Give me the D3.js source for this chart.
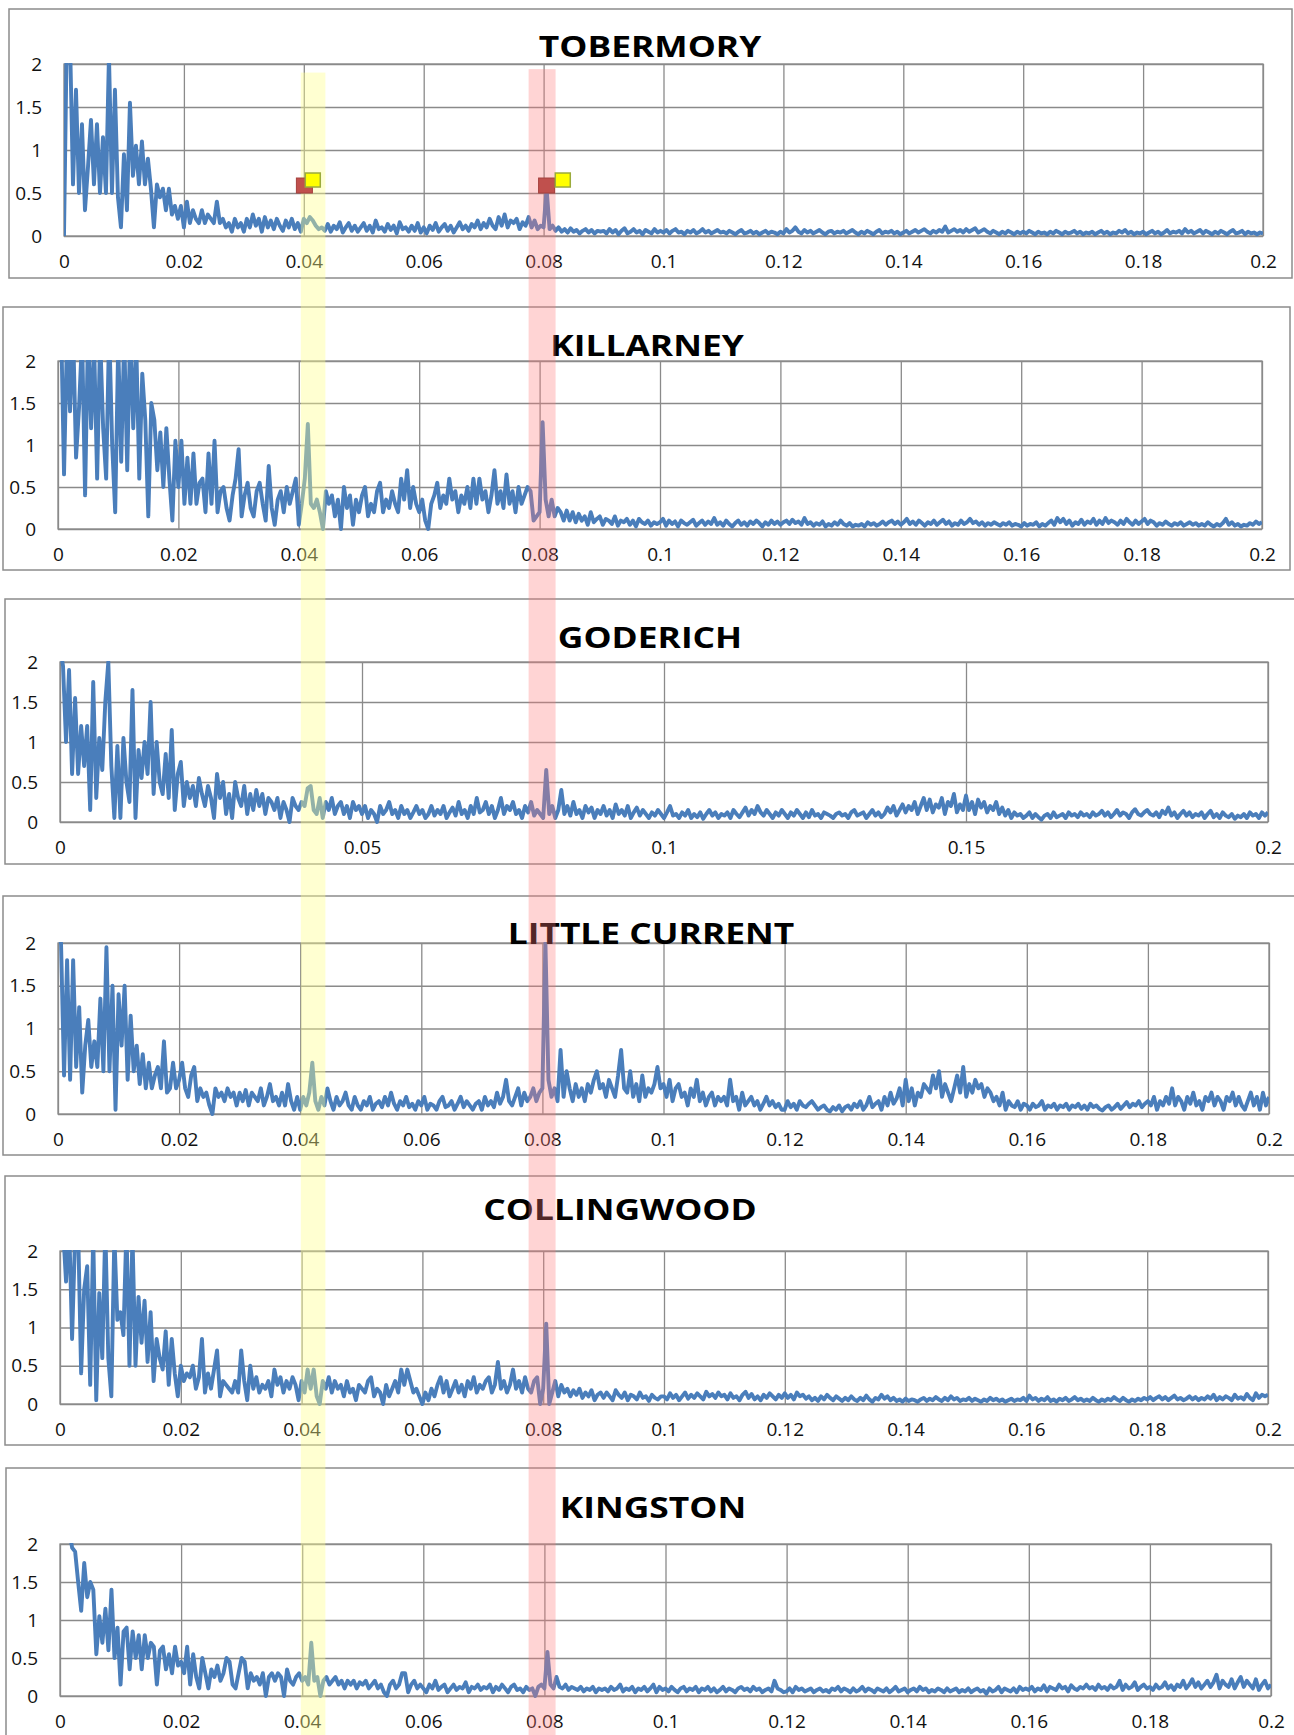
<!DOCTYPE html>
<html>
<head>
<meta charset="utf-8">
<script src="https://cdn.jsdelivr.net/npm/d3@7"></script>
<style>
  body { margin: 0; background: #fff; }
  svg text { font-family: "Open Sans", "Liberation Sans", sans-serif; }
</style>
</head>
<body>
<svg id="drawing_region"></svg>
<script>
// station spectra, one value per 0.0005 of frequency from 0 to 0.2
const stations = ['TOBERMORY', 'KILLARNEY', 'GODERICH', 'LITTLE CURRENT', 'COLLINGWOOD', 'KINGSTON'];
const freqStep = 0.0005;

const tobermory = [
  0, 2.5, 2.3, 0.6, 1.7, 0.5, 1.3, 0.3, 0.8, 1.35, 0.6, 1.3, 0.5, 1.15, 0.5, 2.1, 0.5, 1.7, 0.45, 0.1,
  0.95, 0.3, 1.55, 0.7, 1.05, 0.6, 1.1, 0.6, 0.9, 0.55, 0.1, 0.6, 0.45, 0.55, 0.3, 0.55, 0.25, 0.35, 0.2, 0.35,
  0.1, 0.4, 0.15, 0.3, 0.2, 0.15, 0.3, 0.15, 0.25, 0.2, 0.15, 0.4, 0.15, 0.2, 0.1, 0.15, 0.05, 0.2, 0.1, 0.15,
  0.05, 0.2, 0.1, 0.25, 0.12, 0.2, 0.05, 0.22, 0.1, 0.18, 0.08, 0.2, 0.12, 0.06, 0.18, 0.1, 0.2, 0.08, 0.15, 0.05,
  0.2, 0.15, 0.22, 0.18, 0.12, 0.08, 0.1, 0.06, 0.14, 0.05, 0.12, 0.08, 0.16, 0.04, 0.1, 0.15, 0.06, 0.12, 0.05, 0.1,
  0.15, 0.06, 0.12, 0.04, 0.18, 0.08, 0.1, 0.05, 0.14, 0.07, 0.12, 0.03, 0.16, 0.08, 0.1, 0.05, 0.12, 0.06, 0.15, 0.04,
  0.1, 0.03, 0.12, 0.07, 0.15, 0.05, 0.1, 0.14, 0.06, 0.12, 0.04, 0.1, 0.16, 0.08, 0.12, 0.06, 0.14, 0.1, 0.18, 0.08,
  0.15, 0.1, 0.2, 0.12, 0.08, 0.22, 0.12, 0.25, 0.1, 0.18, 0.15, 0.2, 0.08, 0.16, 0.12, 0.22, 0.1, 0.18, 0.08, 0.12,
  0.1, 0.55, 0.08, 0.12, 0.06, 0.1, 0.05, 0.08, 0.04, 0.09, 0.05, 0.07, 0.03, 0.06, 0.08, 0.04, 0.07, 0.03, 0.06, 0.05,
  0.06, 0.03, 0.08, 0.04, 0.07, 0.02, 0.06, 0.09, 0.03, 0.05, 0.08, 0.04, 0.06, 0.02, 0.07, 0.05, 0.03, 0.08, 0.04, 0.06,
  0.04, 0.07, 0.03, 0.06, 0.08, 0.04, 0.05, 0.02, 0.06, 0.04, 0.07, 0.03, 0.05, 0.08, 0.04, 0.06, 0.03, 0.05, 0.07, 0.04,
  0.05, 0.03, 0.06, 0.04, 0.02, 0.05, 0.07, 0.03, 0.04, 0.06, 0.03, 0.05, 0.02, 0.04, 0.06, 0.03, 0.05, 0.04, 0.02, 0.05,
  0.03, 0.08, 0.04, 0.06, 0.1, 0.05, 0.03, 0.07, 0.04, 0.06, 0.03, 0.05, 0.07, 0.04, 0.02, 0.05, 0.06, 0.03, 0.05, 0.04,
  0.06, 0.03, 0.05, 0.07, 0.04, 0.02, 0.05, 0.03, 0.06, 0.04, 0.02, 0.05, 0.07, 0.03, 0.05, 0.04, 0.06, 0.03, 0.05, 0.02,
  0.04, 0.06, 0.03, 0.05, 0.07, 0.04, 0.06, 0.08, 0.05, 0.03, 0.06, 0.04, 0.07, 0.05, 0.11, 0.04, 0.06, 0.08, 0.05, 0.07,
  0.04, 0.08, 0.05, 0.07, 0.09, 0.04, 0.06, 0.08, 0.05, 0.03, 0.06, 0.04, 0.02, 0.05, 0.03, 0.06, 0.04, 0.02, 0.05, 0.03,
  0.05, 0.03, 0.06, 0.04, 0.02, 0.05, 0.03, 0.04, 0.02, 0.05, 0.03, 0.06, 0.04, 0.02, 0.05, 0.03, 0.04, 0.06, 0.03, 0.05,
  0.02, 0.04, 0.03, 0.05, 0.02, 0.04, 0.06, 0.03, 0.05, 0.02, 0.04, 0.03, 0.06, 0.04, 0.07, 0.03, 0.05, 0.02, 0.04, 0.03,
  0.05, 0.02, 0.04, 0.06, 0.03, 0.05, 0.02, 0.04, 0.07, 0.03, 0.05, 0.04, 0.06, 0.03, 0.08, 0.04, 0.06, 0.03, 0.05, 0.07,
  0.03, 0.06, 0.04, 0.02, 0.05, 0.03, 0.06, 0.04, 0.02, 0.05, 0.07, 0.03, 0.04, 0.06, 0.02, 0.05, 0.03, 0.04, 0.02, 0.04,
  0.03
];

const killarney = [
  2.8, 2.5, 0.65, 2.3, 1.4, 2.4, 0.85, 1.45, 2.3, 0.4, 2.4, 1.2, 2.2, 0.6, 2.3, 1.2, 0.6, 2.4, 1.0, 0.2,
  2.2, 0.8, 2.3, 0.7, 2.4, 1.2, 2.2, 0.6, 1.85, 1.3, 0.15, 1.5, 1.3, 0.7, 1.15, 0.5, 1.2, 0.6, 0.1, 1.05,
  0.5, 1.05, 0.3, 0.85, 0.3, 0.9, 0.3, 0.55, 0.6, 0.2, 0.9, 0.3, 1.05, 0.2, 0.45, 0.5, 0.25, 0.1, 0.4, 0.6,
  0.95, 0.15, 0.4, 0.55, 0.25, 0.15, 0.45, 0.55, 0.3, 0.1, 0.75, 0.25, 0.05, 0.35, 0.45, 0.2, 0.5, 0.3, 0.45, 0.6,
  0.05, 0.3, 0.6, 1.25, 0.3, 0.25, 0.35, 0.2, 0.0, 0.45, 0.3, 0.4, 0.15, 0.35, 0.0, 0.5, 0.25, 0.4, 0.05, 0.35,
  0.2, 0.4, 0.5, 0.15, 0.3, 0.2, 0.45, 0.55, 0.2, 0.35, 0.25, 0.45, 0.3, 0.2, 0.6, 0.35, 0.7, 0.25, 0.5, 0.3,
  0.2, 0.35, 0.1, 0.0, 0.3, 0.4, 0.55, 0.25, 0.4, 0.3, 0.6, 0.35, 0.45, 0.2, 0.4, 0.3, 0.5, 0.25, 0.6, 0.3,
  0.6, 0.35, 0.45, 0.2, 0.4, 0.7, 0.3, 0.45, 0.25, 0.65, 0.3, 0.45, 0.2, 0.5, 0.3, 0.4, 0.5, 0.45, 0.1, 0.15,
  0.2, 1.27, 0.35, 0.15, 0.35, 0.15, 0.25, 0.2, 0.1, 0.22, 0.1, 0.2, 0.08, 0.18, 0.1, 0.15, 0.05, 0.2, 0.08, 0.12,
  0.15, 0.05, 0.12, 0.1, 0.06, 0.15, 0.04, 0.1, 0.08, 0.12, 0.05, 0.1, 0.03, 0.12, 0.08, 0.06, 0.1, 0.04, 0.08, 0.06,
  0.08, 0.12, 0.04, 0.1, 0.06, 0.09, 0.03, 0.1, 0.07, 0.05, 0.08, 0.11, 0.04, 0.07, 0.1, 0.05, 0.09, 0.06, 0.13, 0.05,
  0.08, 0.04, 0.1, 0.06, 0.03, 0.07, 0.1, 0.05, 0.08, 0.04, 0.09, 0.06, 0.1, 0.07, 0.03, 0.08, 0.05, 0.1, 0.06, 0.09,
  0.05, 0.08, 0.1, 0.06, 0.11, 0.07, 0.09, 0.05, 0.13, 0.06, 0.08, 0.04, 0.07, 0.05, 0.09, 0.03, 0.06, 0.04, 0.08, 0.05,
  0.1, 0.06, 0.04, 0.07, 0.03, 0.05, 0.04, 0.06, 0.03, 0.08, 0.05, 0.07, 0.04, 0.06, 0.09, 0.05, 0.08, 0.1, 0.06, 0.09,
  0.05, 0.08, 0.12, 0.06, 0.09, 0.05, 0.1, 0.07, 0.04, 0.08, 0.06, 0.1, 0.05, 0.08, 0.11, 0.06, 0.09, 0.04, 0.07, 0.05,
  0.1, 0.06, 0.08, 0.12, 0.07, 0.09, 0.05, 0.08, 0.04, 0.07, 0.05, 0.08, 0.06, 0.04, 0.07, 0.05, 0.08, 0.04, 0.06, 0.05,
  0.03, 0.07, 0.04, 0.06, 0.05, 0.08, 0.03, 0.06, 0.04, 0.07, 0.1, 0.05, 0.13, 0.08, 0.12, 0.06, 0.1, 0.04, 0.08, 0.06,
  0.11, 0.05, 0.09, 0.07, 0.12, 0.05, 0.1, 0.06, 0.13, 0.07, 0.1, 0.08, 0.05, 0.1, 0.06, 0.12, 0.08, 0.05, 0.1, 0.06,
  0.09, 0.12, 0.06, 0.1, 0.08, 0.04, 0.07, 0.05, 0.09, 0.06, 0.04, 0.07, 0.05, 0.08, 0.04, 0.06, 0.08, 0.05, 0.07, 0.04,
  0.06, 0.04, 0.08, 0.05, 0.03, 0.06, 0.04, 0.07, 0.12, 0.05, 0.08, 0.04, 0.06, 0.03, 0.05, 0.04, 0.07, 0.05, 0.09, 0.06,
  0.08
];

const goderich = [
  2.2, 1.95, 1.0, 1.9, 0.6, 1.55, 0.6, 1.2, 0.7, 1.2, 0.15, 1.75, 0.3, 1.05, 0.65, 1.5, 2.0, 0.7, 0.05, 0.95,
  0.05, 1.05, 0.5, 0.25, 1.65, 0.05, 0.9, 0.55, 1.0, 0.6, 1.5, 0.35, 1.0, 0.5, 0.35, 0.85, 0.3, 1.15, 0.15, 0.6,
  0.75, 0.2, 0.5, 0.3, 0.45, 0.2, 0.55, 0.35, 0.2, 0.45, 0.3, 0.05, 0.6, 0.3, 0.5, 0.1, 0.35, 0.05, 0.5, 0.3,
  0.2, 0.45, 0.1, 0.35, 0.15, 0.4, 0.2, 0.35, 0.1, 0.3, 0.25, 0.15, 0.3, 0.05, 0.25, 0.15, 0.0, 0.3, 0.2, 0.15,
  0.25, 0.2, 0.42, 0.45, 0.15, 0.1, 0.3, 0.05, 0.25, 0.15, 0.3, 0.1, 0.2, 0.25, 0.1, 0.2, 0.05, 0.25, 0.15, 0.2,
  0.1, 0.2, 0.05, 0.15, 0.1, 0.0, 0.2, 0.1, 0.15, 0.25, 0.1, 0.15, 0.05, 0.2, 0.1, 0.15, 0.05, 0.12, 0.2, 0.1,
  0.15, 0.05, 0.1, 0.2, 0.08, 0.15, 0.1, 0.2, 0.05, 0.12, 0.18, 0.08, 0.25, 0.1, 0.15, 0.05, 0.2, 0.1, 0.3, 0.12,
  0.15, 0.25, 0.1, 0.2, 0.05, 0.15, 0.3, 0.1, 0.2, 0.15, 0.25, 0.1, 0.15, 0.05, 0.2, 0.12, 0.25, 0.08, 0.15, 0.1,
  0.05, 0.65, 0.1, 0.2, 0.05, 0.15, 0.4, 0.1, 0.2, 0.08, 0.25, 0.1, 0.15, 0.05, 0.2, 0.12, 0.18, 0.05, 0.15, 0.1,
  0.2, 0.08, 0.15, 0.05, 0.22, 0.1, 0.15, 0.08, 0.2, 0.05, 0.12, 0.18, 0.08, 0.15, 0.1, 0.05, 0.12, 0.08, 0.15, 0.1,
  0.05, 0.12, 0.2, 0.08, 0.1, 0.05, 0.12, 0.08, 0.15, 0.05, 0.1, 0.06, 0.12, 0.04, 0.1, 0.15, 0.08, 0.12, 0.05, 0.1,
  0.08, 0.12, 0.05, 0.15, 0.1, 0.06, 0.12, 0.18, 0.08, 0.15, 0.1, 0.2, 0.12, 0.08, 0.15, 0.1, 0.05, 0.12, 0.08, 0.15,
  0.1, 0.05, 0.12, 0.08, 0.15, 0.1, 0.05, 0.12, 0.06, 0.15, 0.08, 0.1, 0.05, 0.12, 0.1, 0.08, 0.05, 0.1, 0.12, 0.08,
  0.1, 0.05, 0.12, 0.15, 0.08, 0.1, 0.12, 0.05, 0.1, 0.15, 0.08, 0.12, 0.06, 0.1, 0.18, 0.12, 0.2, 0.08, 0.15, 0.22,
  0.12, 0.2, 0.15, 0.25, 0.1, 0.2, 0.3, 0.15, 0.28, 0.12, 0.22, 0.18, 0.3, 0.1, 0.25, 0.2, 0.35, 0.12, 0.22, 0.15,
  0.33, 0.15, 0.25, 0.1, 0.28, 0.18, 0.25, 0.12, 0.2, 0.15, 0.25, 0.1, 0.18, 0.08, 0.15, 0.05, 0.12, 0.08, 0.1, 0.05,
  0.08, 0.12, 0.05, 0.1, 0.06, 0.03, 0.08, 0.1, 0.05, 0.12, 0.06, 0.08, 0.1, 0.05, 0.12, 0.08, 0.1, 0.06, 0.12, 0.08,
  0.1, 0.06, 0.12, 0.08, 0.1, 0.14, 0.08, 0.12, 0.06, 0.1, 0.15, 0.08, 0.12, 0.1, 0.05, 0.12, 0.16, 0.1, 0.08, 0.12,
  0.15, 0.1, 0.08, 0.12, 0.06, 0.14, 0.1, 0.18, 0.08, 0.12, 0.05, 0.1, 0.14, 0.08, 0.12, 0.06, 0.1, 0.08, 0.12, 0.05,
  0.1, 0.14, 0.06, 0.1, 0.05, 0.12, 0.08, 0.06, 0.1, 0.04, 0.08, 0.06, 0.1, 0.05, 0.12, 0.08, 0.1, 0.05, 0.12, 0.08,
  0.12
];

const littleCurrent = [
  2.1, 2.0, 0.45, 1.8, 0.4, 1.8, 0.55, 1.25, 0.25, 0.8, 1.1, 0.55, 0.85, 0.55, 1.35, 0.5, 1.95, 0.5, 1.5, 0.05,
  1.4, 0.8, 1.5, 0.4, 1.15, 0.5, 0.8, 0.35, 0.7, 0.3, 0.6, 0.3, 0.45, 0.55, 0.3, 0.85, 0.25, 0.3, 0.6, 0.3,
  0.4, 0.6, 0.3, 0.2, 0.45, 0.55, 0.15, 0.3, 0.2, 0.25, 0.1, 0.0, 0.3, 0.2, 0.25, 0.15, 0.3, 0.2, 0.25, 0.1,
  0.25, 0.15, 0.28, 0.1, 0.25, 0.2, 0.15, 0.3, 0.1, 0.2, 0.35, 0.15, 0.2, 0.1, 0.25, 0.1, 0.35, 0.15, 0.05, 0.2,
  0.05, 0.2, 0.1, 0.25, 0.6, 0.15, 0.05, 0.2, 0.1, 0.3, 0.15, 0.05, 0.2, 0.1, 0.15, 0.25, 0.1, 0.05, 0.2, 0.1,
  0.05, 0.15, 0.1, 0.2, 0.05, 0.12, 0.15, 0.08, 0.2, 0.1, 0.25, 0.12, 0.05, 0.15, 0.1, 0.2, 0.08, 0.12, 0.05, 0.15,
  0.1, 0.2, 0.05, 0.12, 0.1, 0.05, 0.15, 0.2, 0.08, 0.1, 0.15, 0.05, 0.12, 0.2, 0.08, 0.15, 0.1, 0.05, 0.12, 0.15,
  0.05, 0.2, 0.1, 0.15, 0.08, 0.25, 0.12, 0.2, 0.4, 0.15, 0.1, 0.2, 0.3, 0.1, 0.25, 0.15, 0.2, 0.3, 0.15, 0.25,
  0.3, 2.0, 0.4, 0.2, 0.3, 0.15, 0.75, 0.2, 0.5, 0.3, 0.15, 0.35, 0.2, 0.3, 0.15, 0.35, 0.25, 0.4, 0.5, 0.3,
  0.35, 0.2, 0.4, 0.3, 0.2, 0.45, 0.75, 0.3, 0.25, 0.5, 0.2, 0.35, 0.15, 0.45, 0.2, 0.3, 0.25, 0.35, 0.55, 0.3,
  0.35, 0.2, 0.4, 0.15, 0.3, 0.35, 0.2, 0.25, 0.1, 0.3, 0.2, 0.4, 0.15, 0.25, 0.1, 0.2, 0.25, 0.1, 0.2, 0.15,
  0.2, 0.1, 0.4, 0.15, 0.2, 0.05, 0.25, 0.1, 0.15, 0.2, 0.1, 0.15, 0.05, 0.12, 0.2, 0.1, 0.15, 0.08, 0.12, 0.05,
  0.05, 0.15, 0.08, 0.12, 0.05, 0.15, 0.1, 0.08, 0.12, 0.15, 0.1, 0.05, 0.08, 0.1, 0.05, 0.03, 0.08, 0.05, 0.1, 0.03,
  0.08, 0.1, 0.05, 0.12, 0.08, 0.15, 0.05, 0.1, 0.2, 0.08, 0.12, 0.15, 0.05, 0.2, 0.1, 0.25, 0.12, 0.18, 0.3, 0.1,
  0.4, 0.15, 0.3, 0.1, 0.25, 0.2, 0.35, 0.3, 0.25, 0.45, 0.3, 0.5, 0.2, 0.35, 0.25, 0.15, 0.3, 0.45, 0.25, 0.55,
  0.2, 0.35, 0.25, 0.4, 0.3, 0.35, 0.2, 0.3, 0.25, 0.15, 0.2, 0.1, 0.25, 0.05, 0.15, 0.1, 0.08, 0.15, 0.05, 0.12,
  0.1, 0.05, 0.12, 0.08, 0.1, 0.15, 0.05, 0.1, 0.08, 0.12, 0.05, 0.1, 0.08, 0.12, 0.05, 0.1, 0.08, 0.12, 0.06, 0.1,
  0.05, 0.12, 0.08, 0.1, 0.06, 0.04, 0.08, 0.1, 0.05, 0.08, 0.12, 0.06, 0.1, 0.14, 0.08, 0.12, 0.1, 0.15, 0.08, 0.12,
  0.15, 0.1, 0.2, 0.05, 0.15, 0.1, 0.2, 0.12, 0.3, 0.1, 0.2, 0.15, 0.05, 0.2, 0.12, 0.25, 0.1, 0.15, 0.05, 0.2,
  0.15, 0.25, 0.1, 0.2, 0.15, 0.05, 0.2, 0.15, 0.25, 0.1, 0.2, 0.1, 0.05, 0.15, 0.25, 0.1, 0.2, 0.05, 0.25, 0.1,
  0.2
];

const collingwood = [
  2.5, 2.3, 1.6, 2.4, 0.85, 2.2, 2.3, 0.4, 1.5, 1.8, 0.25, 2.2, 0.05, 1.45, 0.6, 2.3, 0.6, 0.1, 2.2, 1.1,
  1.2, 0.9, 2.3, 0.5, 2.2, 0.5, 1.4, 0.8, 1.35, 0.55, 1.2, 0.3, 0.85, 0.6, 0.45, 0.95, 0.25, 0.85, 0.4, 0.1,
  0.5, 0.3, 0.4, 0.35, 0.5, 0.2, 0.35, 0.85, 0.15, 0.4, 0.2, 0.45, 0.7, 0.1, 0.3, 0.25, 0.2, 0.15, 0.3, 0.15,
  0.7, 0.3, 0.05, 0.5, 0.2, 0.35, 0.15, 0.25, 0.2, 0.3, 0.1, 0.45, 0.25, 0.35, 0.15, 0.3, 0.2, 0.35, 0.25, 0.05,
  0.3, 0.15, 0.45, 0.2, 0.45, 0.1, 0.0, 0.3, 0.2, 0.35, 0.15, 0.3, 0.2, 0.25, 0.1, 0.3, 0.15, 0.2, 0.05, 0.25,
  0.2, 0.15, 0.3, 0.35, 0.1, 0.2, 0.15, 0.0, 0.25, 0.1, 0.2, 0.3, 0.15, 0.45, 0.25, 0.45, 0.3, 0.15, 0.2, 0.1,
  0.0, 0.15, 0.05, 0.2, 0.1, 0.25, 0.35, 0.15, 0.3, 0.1, 0.2, 0.3, 0.15, 0.25, 0.1, 0.3, 0.2, 0.35, 0.15, 0.25,
  0.2, 0.3, 0.35, 0.15, 0.25, 0.55, 0.2, 0.3, 0.15, 0.25, 0.45, 0.2, 0.3, 0.15, 0.35, 0.2, 0.15, 0.3, 0.35, 0.0,
  0.2, 1.05, 0.0, 0.15, 0.3, 0.1, 0.25, 0.15, 0.2, 0.1, 0.18, 0.12, 0.2, 0.08, 0.15, 0.1, 0.18, 0.05, 0.12, 0.15,
  0.08, 0.15, 0.1, 0.05, 0.18, 0.12, 0.08, 0.15, 0.05, 0.12, 0.1, 0.06, 0.15, 0.08, 0.1, 0.04, 0.12, 0.08, 0.06, 0.1,
  0.1, 0.06, 0.14, 0.08, 0.12, 0.05, 0.1, 0.15, 0.07, 0.12, 0.08, 0.14, 0.1, 0.06, 0.16, 0.1, 0.13, 0.08, 0.15, 0.1,
  0.12, 0.06, 0.14, 0.08, 0.1, 0.05, 0.12, 0.16, 0.08, 0.13, 0.06, 0.1, 0.05, 0.12, 0.08, 0.14, 0.1, 0.06, 0.12, 0.08,
  0.14, 0.08, 0.12, 0.06, 0.15, 0.1, 0.12, 0.07, 0.1, 0.05, 0.08, 0.04, 0.1, 0.06, 0.12, 0.08, 0.05, 0.1, 0.07, 0.04,
  0.08, 0.05, 0.1, 0.06, 0.04, 0.08, 0.05, 0.11, 0.06, 0.03, 0.08, 0.06, 0.12, 0.07, 0.1, 0.05, 0.08, 0.04, 0.06, 0.03,
  0.07, 0.04, 0.06, 0.05, 0.03, 0.06, 0.08, 0.04, 0.07, 0.05, 0.09, 0.06, 0.04, 0.08, 0.05, 0.1, 0.06, 0.08, 0.04, 0.06,
  0.05, 0.08, 0.04, 0.07, 0.05, 0.03, 0.06, 0.04, 0.08, 0.05, 0.07, 0.04, 0.06, 0.03, 0.05, 0.07, 0.04, 0.06, 0.05, 0.08,
  0.04, 0.11, 0.06, 0.08, 0.04, 0.07, 0.05, 0.09, 0.04, 0.06, 0.03, 0.07, 0.05, 0.08, 0.04, 0.06, 0.09, 0.05, 0.07, 0.04,
  0.06, 0.04, 0.08, 0.05, 0.03, 0.06, 0.04, 0.07, 0.05, 0.09, 0.06, 0.04, 0.08, 0.05, 0.03, 0.06, 0.04, 0.07, 0.05, 0.08,
  0.06, 0.09, 0.05, 0.08, 0.1, 0.06, 0.09, 0.05, 0.08, 0.11, 0.06, 0.08, 0.05, 0.07, 0.1, 0.06, 0.09, 0.05, 0.08, 0.06,
  0.1, 0.07, 0.12, 0.05, 0.09, 0.06, 0.1, 0.08, 0.05, 0.12, 0.07, 0.09, 0.06, 0.13, 0.08, 0.05, 0.14, 0.08, 0.12, 0.1,
  0.12
];

const kingston = [
  3.0, 2.8, 2.6, 2.2, 1.95, 1.9, 1.5, 1.12, 1.75, 1.3, 1.5, 1.4, 0.55, 1.05, 0.7, 1.15, 0.6, 1.4, 0.5, 0.9,
  0.15, 0.85, 0.9, 0.35, 0.85, 0.5, 0.8, 0.35, 0.8, 0.5, 0.7, 0.65, 0.15, 0.6, 0.65, 0.35, 0.55, 0.3, 0.65, 0.4,
  0.45, 0.3, 0.65, 0.15, 0.55, 0.25, 0.1, 0.5, 0.3, 0.1, 0.35, 0.25, 0.4, 0.2, 0.3, 0.5, 0.45, 0.15, 0.1, 0.3,
  0.5, 0.45, 0.1, 0.3, 0.2, 0.25, 0.15, 0.3, 0.0, 0.25, 0.3, 0.2, 0.3, 0.25, 0.0, 0.35, 0.2, 0.15, 0.25, 0.3,
  0.2, 0.25, 0.15, 0.7, 0.2, 0.25, 0.0, 0.2, 0.25, 0.15, 0.2, 0.25, 0.15, 0.2, 0.1, 0.2, 0.15, 0.2, 0.1, 0.18,
  0.15, 0.2, 0.1, 0.15, 0.2, 0.1, 0.15, 0.05, 0.0, 0.15, 0.2, 0.1, 0.15, 0.3, 0.3, 0.05, 0.15, 0.2, 0.1, 0.15,
  0.1, 0.05, 0.15, 0.1, 0.2, 0.08, 0.12, 0.15, 0.05, 0.1, 0.15, 0.08, 0.12, 0.1, 0.18, 0.05, 0.12, 0.1, 0.15, 0.08,
  0.12, 0.1, 0.15, 0.05, 0.12, 0.08, 0.15, 0.1, 0.05, 0.12, 0.15, 0.08, 0.1, 0.05, 0.12, 0.08, 0.1, 0.0, 0.12, 0.15,
  0.1, 0.58, 0.15, 0.1, 0.25, 0.12, 0.1, 0.15, 0.08, 0.12, 0.1, 0.08, 0.12, 0.06, 0.1, 0.08, 0.12, 0.05, 0.1, 0.08,
  0.1, 0.06, 0.12, 0.08, 0.1, 0.15, 0.06, 0.1, 0.08, 0.12, 0.05, 0.1, 0.08, 0.12, 0.06, 0.1, 0.15, 0.05, 0.12, 0.08,
  0.1, 0.06, 0.12, 0.08, 0.05, 0.1, 0.12, 0.06, 0.1, 0.08, 0.12, 0.05, 0.1, 0.08, 0.12, 0.06, 0.1, 0.05, 0.08, 0.12,
  0.06, 0.1, 0.08, 0.05, 0.1, 0.12, 0.08, 0.1, 0.06, 0.12, 0.08, 0.1, 0.05, 0.08, 0.1, 0.06, 0.2, 0.1, 0.08, 0.05,
  0.06, 0.1, 0.05, 0.12, 0.08, 0.1, 0.06, 0.08, 0.1, 0.05, 0.08, 0.1, 0.06, 0.08, 0.05, 0.1, 0.08, 0.12, 0.06, 0.1,
  0.08, 0.05, 0.1, 0.06, 0.08, 0.12, 0.06, 0.1, 0.08, 0.05, 0.1, 0.08, 0.06, 0.1, 0.05, 0.08, 0.12, 0.06, 0.08, 0.1,
  0.05, 0.08, 0.1, 0.06, 0.12, 0.08, 0.1, 0.05, 0.08, 0.06, 0.1, 0.08, 0.05, 0.1, 0.06, 0.08, 0.1, 0.05, 0.08, 0.06,
  0.1, 0.05, 0.08, 0.1, 0.06, 0.08, 0.03, 0.1, 0.06, 0.08, 0.12, 0.05, 0.1, 0.08, 0.06, 0.1, 0.05, 0.12, 0.08, 0.1,
  0.08, 0.12, 0.06, 0.1, 0.08, 0.14, 0.06, 0.12, 0.1, 0.08, 0.15, 0.1, 0.12, 0.06, 0.14, 0.1, 0.08, 0.12, 0.1, 0.15,
  0.1, 0.12, 0.08, 0.15, 0.1, 0.12, 0.08, 0.14, 0.1, 0.12, 0.2, 0.08, 0.15, 0.1, 0.12, 0.18, 0.08, 0.12, 0.15, 0.1,
  0.12, 0.08, 0.15, 0.1, 0.12, 0.18, 0.1, 0.14, 0.08, 0.15, 0.12, 0.2, 0.1, 0.15, 0.22, 0.12, 0.18, 0.1, 0.15, 0.2,
  0.12, 0.18, 0.28, 0.1, 0.2, 0.15, 0.12, 0.22, 0.1, 0.18, 0.25, 0.12, 0.2, 0.15, 0.1, 0.22, 0.08, 0.15, 0.2, 0.1,
  0.15
];

const yTicks = [0, 0.5, 1, 1.5, 2];
const xTicks = [0, 0.02, 0.04, 0.06, 0.08, 0.1, 0.12, 0.14, 0.16, 0.18, 0.2];
const xTicksGoderich = [0, 0.05, 0.1, 0.15, 0.2];

// shaded frequency bands (drawn across every panel) and the Tobermory markers
const bandFrom = [0.0395, 0.0775];
const bandTo = [0.0436, 0.082];
const bandTop = [1.9, 1.94];
const redMarkers = [[0.0401, 0.587], [0.0805, 0.587]];
const yellowMarkers = [[0.0415, 0.651], [0.0832, 0.651]];

const seriesList = [tobermory, killarney, goderich, littleCurrent, collingwood, kingston];
const tickList = [xTicks, xTicks, xTicksGoderich, xTicks, xTicks, xTicks];

// panel geometry: outer box [x0, y0, x1, y1], plot [left, top, right, bottom], title centre
const layout = [
  { box: [9, 9, 1292, 278], plot: [64, 64, 1263, 236], title: [650, 46] },
  { box: [3, 307, 1290, 570], plot: [58, 361, 1262, 529], title: [647, 345] },
  { box: [5, 599, 1300, 864], plot: [60, 662, 1268, 822], title: [650, 637] },
  { box: [3, 896, 1300, 1155], plot: [58, 943, 1269, 1114], title: [651, 933] },
  { box: [5, 1176, 1300, 1445], plot: [60, 1251, 1268, 1404], title: [620, 1209] },
  { box: [6, 1468, 1300, 1745], plot: [60, 1544, 1271, 1696], title: [653, 1507] }
];

const W = 1294, H = 1735;
const lineColor = '#4a7ebb';
const gridColor = '#8a8a8a';

const svg = d3.select('#drawing_region')
  .attr('width', W)
  .attr('height', H);

const scales = [];

stations.forEach((name, k) => {
  const g = layout[k];
  const [left, top, right, bottom] = g.plot;
  const values = seriesList[k];

  const xscale = d3.scaleLinear().domain([0, 0.2]).range([left, right]);
  const yscale = d3.scaleLinear().domain([0, 2]).range([bottom, top]);
  scales.push({ x: xscale, y: yscale });

  const panel = svg.append('g');

  panel.append('rect')
    .attr('x', g.box[0]).attr('y', g.box[1])
    .attr('width', g.box[2] - g.box[0]).attr('height', g.box[3] - g.box[1])
    .attr('fill', '#fff')
    .attr('stroke', '#8c8c8c')
    .attr('stroke-width', 1.5);

  // Axes with full-length ticks act as the grid
  const yaxis = d3.axisLeft(yscale)
    .tickValues(yTicks)
    .tickSize(-(right - left))
    .tickPadding(22)
    .tickFormat(d => String(d));

  const xaxis = d3.axisBottom(xscale)
    .tickValues(tickList[k])
    .tickSize(-(bottom - top))
    .tickPadding(19)
    .tickFormat(d => String(d));

  const yg = panel.append('g')
    .attr('transform', `translate(${left},0)`)
    .call(yaxis);
  const xg = panel.append('g')
    .attr('transform', `translate(0,${bottom})`)
    .call(xaxis);

  [yg, xg].forEach(ax => {
    ax.select('.domain').remove();
    ax.selectAll('.tick line').attr('stroke', gridColor).attr('stroke-width', 1.3);
    ax.selectAll('.tick text')
      .attr('fill', '#111')
      .style('font-size', '19px');
  });

  panel.append('rect')
    .attr('x', left).attr('y', top)
    .attr('width', right - left).attr('height', bottom - top)
    .attr('fill', 'none')
    .attr('stroke', gridColor)
    .attr('stroke-width', 1.3);

  const clipId = 'clip' + k;
  panel.append('clipPath').attr('id', clipId)
    .append('rect')
    .attr('x', left).attr('y', top - 1)
    .attr('width', right - left).attr('height', bottom - top + 3);

  const line = d3.line()
    .x((d, i) => xscale(i * freqStep))
    .y(d => yscale(d));

  panel.append('path')
    .attr('clip-path', `url(#${clipId})`)
    .attr('d', line(values))
    .attr('fill', 'none')
    .attr('stroke', lineColor)
    .attr('stroke-width', 3.9)
    .attr('stroke-linejoin', 'round');

  panel.append('text')
    .attr('transform', `translate(${g.title[0]},${g.title[1] + 10.5}) scale(1.22,1)`)
    .attr('text-anchor', 'middle')
    .style('font-size', '29px')
    .style('font-weight', 'bold')
    .attr('fill', '#000')
    .text(name);
});

// Shaded bands run down through all panels, using the first panel's frequency scale
const ref = scales[0];
const overlay = svg.append('g');
const bandColors = ['rgba(255,255,140,0.4)', 'rgba(255,120,120,0.32)'];
bandFrom.forEach((f, i) => {
  overlay.append('rect')
    .attr('x', ref.x(f))
    .attr('y', ref.y(bandTop[i]))
    .attr('width', ref.x(bandTo[i]) - ref.x(f))
    .attr('height', H - ref.y(bandTop[i]))
    .attr('fill', bandColors[i]);
});

overlay.selectAll('rect.red')
  .data(redMarkers)
  .join('rect')
  .attr('class', 'red')
  .attr('x', d => ref.x(d[0]) - 8)
  .attr('y', d => ref.y(d[1]) - 7.5)
  .attr('width', 16).attr('height', 15)
  .attr('fill', '#c0504d')
  .attr('stroke', '#a5403d')
  .attr('stroke-width', 1);

overlay.selectAll('rect.yellow')
  .data(yellowMarkers)
  .join('rect')
  .attr('class', 'yellow')
  .attr('x', d => ref.x(d[0]) - 7.5)
  .attr('y', d => ref.y(d[1]) - 7)
  .attr('width', 15).attr('height', 14)
  .attr('fill', '#ffff00')
  .attr('stroke', '#9bab3c')
  .attr('stroke-width', 1.5);
</script>
</body>
</html>
